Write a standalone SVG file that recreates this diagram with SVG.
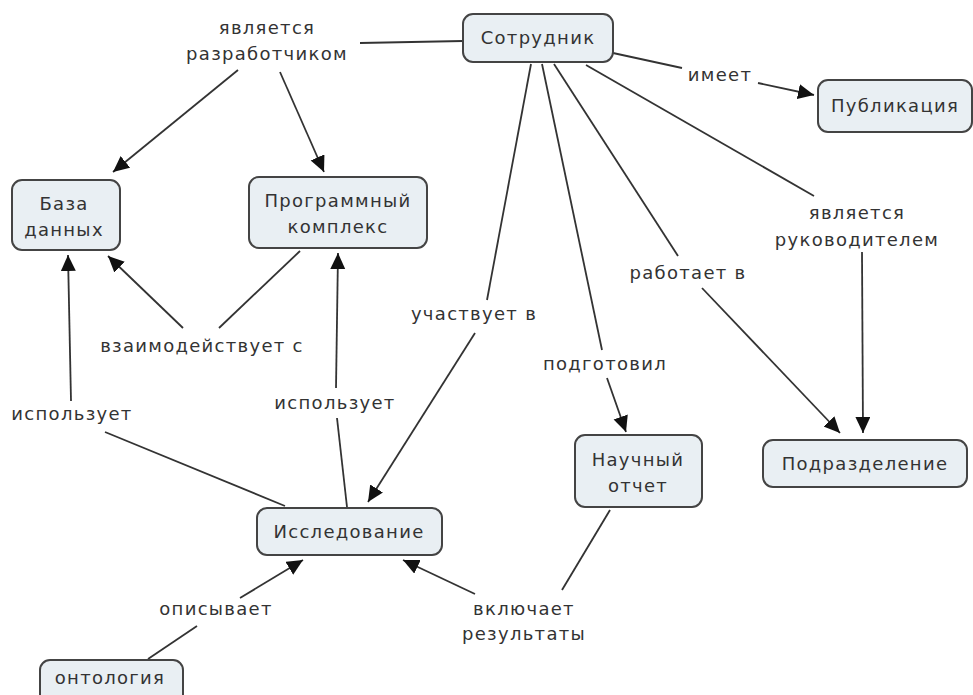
<svg xmlns="http://www.w3.org/2000/svg" width="973" height="695" viewBox="0 0 973 695">
<defs>
<marker id="arr" markerUnits="userSpaceOnUse" markerWidth="18" markerHeight="16" refX="16" refY="7.5" orient="auto">
<path d="M0,0 L16,7.5 L0,15 z" fill="#111"/>
</marker>
<style>
.node rect{fill:#e9eff3;stroke:#444;stroke-width:2}
text{font-family:"DejaVu Sans","Noto Sans",sans-serif;font-size:18px;fill:#333;text-anchor:middle;letter-spacing:1.3px}
.edges line{stroke:#333;stroke-width:1.8;fill:none}
.edges line.a{marker-end:url(#arr)}
</style>
</defs>
<rect width="973" height="695" fill="#fff"/>
<g class="edges" id="connectors">
<line x1="463" y1="41" x2="360" y2="43"/>
<line class="a" x1="238" y1="70" x2="113" y2="172"/>
<line class="a" x1="280" y1="72" x2="324" y2="172"/>
<line x1="613" y1="53" x2="682" y2="68"/>
<line class="a" x1="758" y1="83" x2="814" y2="95"/>
<line x1="586" y1="65" x2="814" y2="196"/>
<line class="a" x1="862" y1="252" x2="863" y2="433"/>
<line x1="554" y1="64" x2="678" y2="256"/>
<line class="a" x1="702" y1="288" x2="840" y2="433"/>
<line x1="542" y1="64" x2="602" y2="350"/>
<line class="a" x1="607" y1="378" x2="626" y2="432"/>
<line x1="531" y1="64" x2="487" y2="300"/>
<line class="a" x1="475" y1="333" x2="368" y2="502"/>
<line x1="300" y1="251" x2="219" y2="328"/>
<line class="a" x1="183" y1="328" x2="108" y2="256"/>
<line x1="285" y1="506" x2="105" y2="432"/>
<line class="a" x1="71" y1="401" x2="68" y2="255"/>
<line x1="347" y1="507" x2="337" y2="418"/>
<line class="a" x1="336" y1="388" x2="338" y2="253"/>
<line x1="148" y1="659" x2="197" y2="626"/>
<line class="a" x1="240" y1="598" x2="303" y2="560"/>
<line x1="610" y1="510" x2="562" y2="590"/>
<line class="a" x1="475" y1="594" x2="403" y2="560"/>
</g>
<g id="labels">
<text x="267" y="34">является</text>
<text x="267" y="60">разработчиком</text>
<text x="720" y="81">имеет</text>
<text x="857" y="219">является</text>
<text x="857" y="246">руководителем</text>
<text x="688" y="279">работает в</text>
<text x="474" y="320">участвует в</text>
<text x="605" y="370">подготовил</text>
<text x="202" y="352">взаимодействует с</text>
<text x="72" y="420">использует</text>
<text x="335" y="409">использует</text>
<text x="216" y="615">описывает</text>
<text x="524" y="615">включает</text>
<text x="524" y="640">результаты</text>
</g>
<g id="sotrudnik" class="node"><rect x="463" y="14" width="150" height="48" rx="10"/><text x="538" y="44">Сотрудник</text></g>
<g id="publikaciya" class="node"><rect x="818" y="80" width="154" height="52" rx="10"/><text x="895" y="112">Публикация</text></g>
<g id="baza" class="node"><rect x="12" y="180" width="108" height="70" rx="10"/><text x="64" y="210">База</text><text x="64" y="236">данных</text></g>
<g id="programmnyi" class="node"><rect x="249" y="177" width="178" height="71" rx="10"/><text x="338" y="207">Программный</text><text x="338" y="233">комплекс</text></g>
<g id="issledovanie" class="node"><rect x="257" y="508" width="185" height="47" rx="10"/><text x="349" y="538">Исследование</text></g>
<g id="ontologiya" class="node"><rect x="40" y="660" width="143" height="45" rx="10"/><text x="110" y="684">онтология</text></g>
<g id="nauchnyi" class="node"><rect x="575" y="435" width="127" height="72" rx="10"/><text x="638" y="466">Научный</text><text x="638" y="492">отчет</text></g>
<g id="podrazdelenie" class="node"><rect x="763" y="440" width="204" height="47" rx="10"/><text x="865" y="470">Подразделение</text></g>
</svg>
